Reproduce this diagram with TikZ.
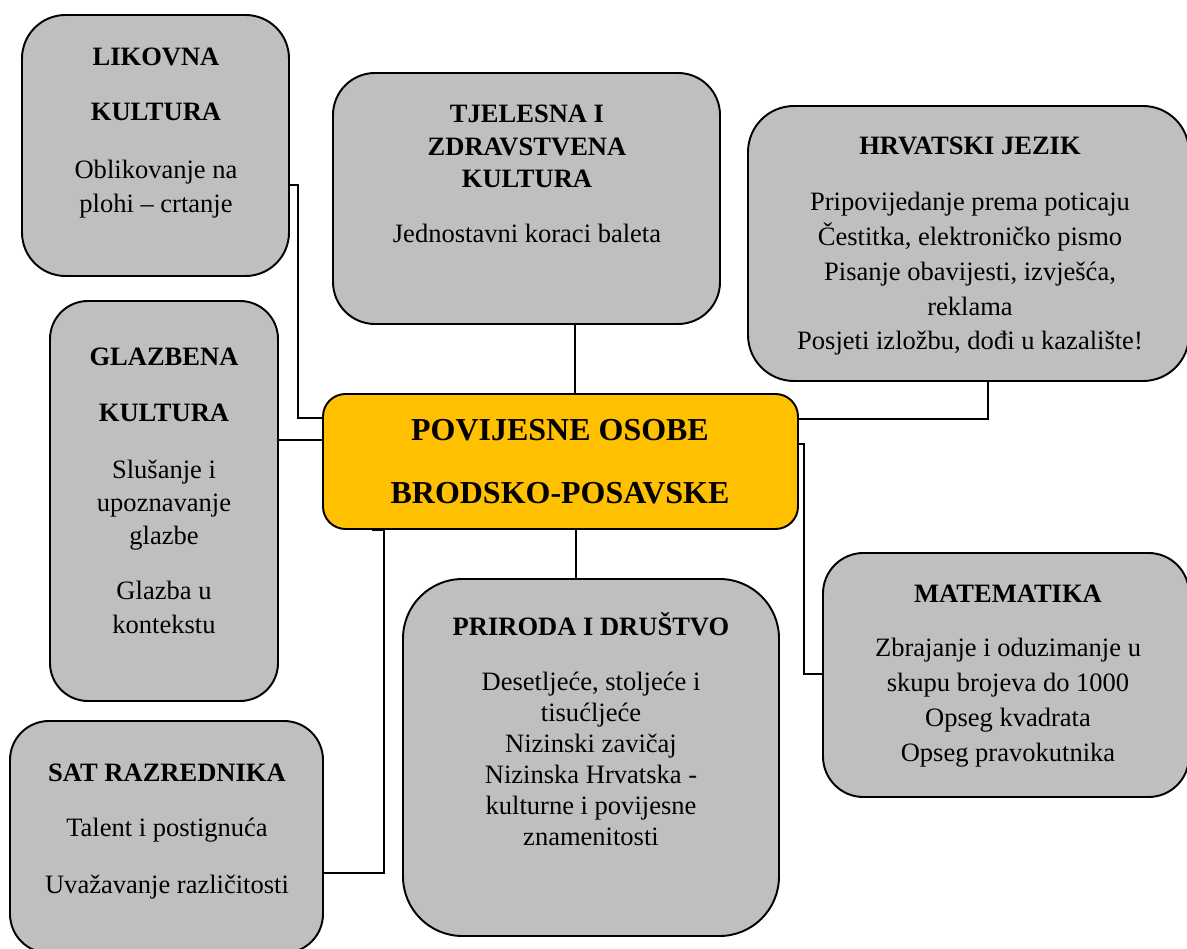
\documentclass[tikz,border=0pt]{standalone}
\usepackage{fontspec}
\setmainfont{Liberation Serif}
\usetikzlibrary{fit}
\definecolor{boxgray}{RGB}{191,191,191}
\definecolor{gold}{RGB}{255,192,0}

\begin{document}
\begin{tikzpicture}[x=0.02cm,y=-0.02cm,
  subj/.style={draw,line width=1.1pt,fill=boxgray,inner sep=0pt,rounded corners=#1},
  hub/.style={draw,line width=1.1pt,fill=gold,inner sep=0pt,rounded corners=0.45cm},
  txt/.style={align=center,anchor=base,inner sep=0pt,font=\fontsize{15.1}{#1}\selectfont},
  hubtxt/.style={align=center,anchor=base,inner sep=0pt,font=\fontsize{18.2}{35.3pt}\selectfont\bfseries},
  link/.style={line width=0.75pt}]
\useasboundingbox (0,0) rectangle (1187,949);
% predmeti (sive kutije)
\node[subj=0.87cm,fit={(22,15) (289,276)}] (likovna) {};
\node[subj=0.84cm,fit={(333,73) (720,324)}] (tjelesna) {};
\node[subj=0.92cm,fit={(748,106) (1189,381)}] (hrvatski) {};
\node[subj=0.76cm,fit={(50,301) (278,701)}] (glazbena) {};
\node[subj=0.81cm,fit={(823,553) (1189,797)}] (matematika) {};
\node[subj=1.19cm,fit={(403,579) (779,936)}] (priroda) {};
\node[subj=0.78cm,fit={(10,721) (323,953)}] (sat) {};
% sredisnja tema
\node[hub,fit={(323,394) (798,529)}] (centre) {};
% spojnice
\draw[link] (likovna.east |- 0,185) -| (298,418) -- (centre.west |- 0,418);
\draw[link] (glazbena.east |- 0,440) -- (centre.west |- 0,440);
\draw[link] (tjelesna.south -| 575,0) -- (centre.north -| 575,0);
\draw[link] (hrvatski.south -| 988,0) |- (centre.east |- 0,419);
\draw[link] (matematika.west |- 0,674) -| (804,444) -- (centre.east |- 0,444);
\draw[link] (centre.south -| 576,0) -- (priroda.north -| 576,0);
\draw[link] (sat.east |- 0,873) -| (centre.south -| 384,0) -- ++(-12,0);
% tekstovi (base = zadnji redak)
\node[txt=19.4pt] (likovnaT) at (156,213) {\textbf{LIKOVNA}\\[0.42cm]\textbf{KULTURA}\\[0.48cm]Oblikovanje na\\plohi – crtanje};
\node[txt=18.5pt] (tjelesnaT) at (527,243) {\textbf{TJELESNA I}\\\textbf{ZDRAVSTVENA}\\\textbf{KULTURA}\\[0.45cm]Jednostavni koraci baleta};
\node[txt=19.9pt] (hrvatskiT) at (970,350) {\textbf{HRVATSKI JEZIK}\\[0.42cm]Pripovijedanje prema poticaju\\Čestitka, elektroničko pismo\\Pisanje obavijesti, izvješća,\\reklama\\Posjeti izložbu, dođi u kazalište!};
\node[txt=18.8pt] (glazbenaT) at (164,633) {\textbf{GLAZBENA}\\[0.46cm]\textbf{KULTURA}\\[0.48cm]Slušanje i\\upoznavanje\\glazbe\\[0.44cm]Glazba u\\kontekstu};
\node[hubtxt] (centreT) at (560,503) {POVIJESNE OSOBE\\BRODSKO-POSAVSKE};
\node[txt=19.9pt] (matematikaT) at (1008,761) {\textbf{MATEMATIKA}\\[0.38cm]Zbrajanje i oduzimanje u\\skupu brojeva do 1000\\Opseg kvadrata\\Opseg pravokutnika};
\node[txt=17.6pt] (prirodaT) at (591,845) {\textbf{PRIRODA I DRUŠTVO}\\[0.48cm]Desetljeće, stoljeće i\\tisućljeće\\Nizinski zavičaj\\Nizinska Hrvatska -\\kulturne i povijesne\\znamenitosti};
\node[txt=19.4pt] (satT) at (167,893) {\textbf{SAT RAZREDNIKA}\\[0.42cm]Talent i postignuća\\[0.44cm]Uvažavanje različitosti};
\end{tikzpicture}
\end{document}
